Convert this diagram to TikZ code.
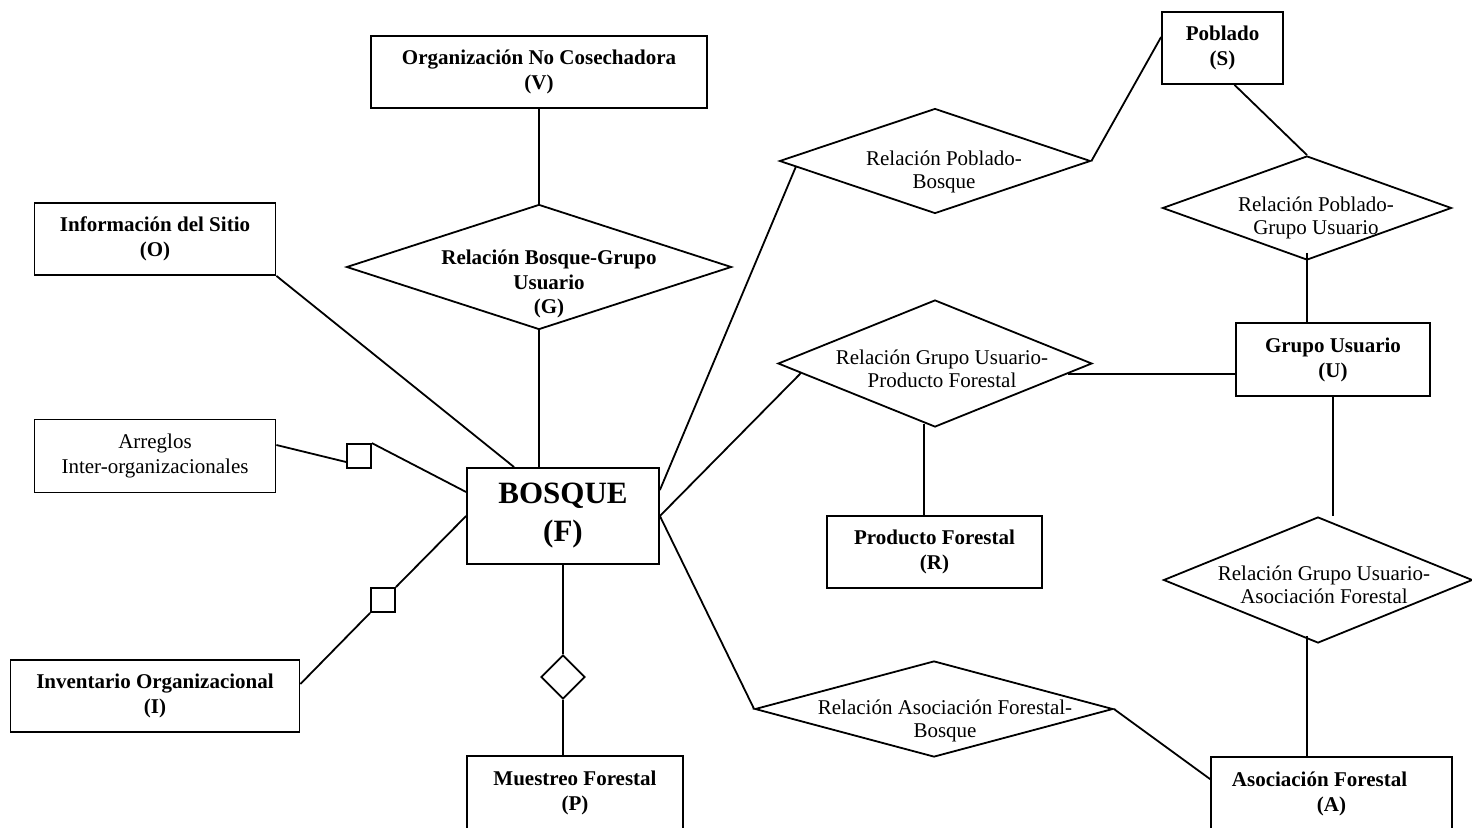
\documentclass[tikz,border=0pt]{standalone}
\usepackage{fontspec}
\setmainfont{Liberation Serif}
\usetikzlibrary{shapes.geometric,calc}
\begin{document}
\begin{tikzpicture}[x=1pt,y=-1pt,line width=1.8pt,
  ent/.style={draw, rectangle, inner sep=0pt, align=center, font=\bfseries\fontsize{21}{25}\selectfont},
  entreg/.style={draw, rectangle, inner sep=0pt, align=center, font=\fontsize{21}{25}\selectfont},
  rel/.style={draw, diamond, inner sep=0pt},
  reltxt/.style={align=center, inner sep=0pt, font=\fontsize{21}{23.5}\selectfont},
  reltxtb/.style={align=center, inner sep=0pt, font=\bfseries\fontsize{21}{24.5}\selectfont},
  sq/.style={draw, rectangle, inner sep=0pt, minimum width=24pt, minimum height=24pt}
]
\useasboundingbox (0,0) rectangle (1472,827);

% entities
\node[ent, minimum width=336pt, minimum height=72pt] (v) at (539,72) {Organización No Cosechadora\\(V)};
\node[ent, minimum width=241pt, minimum height=72pt] (o) at (155,239) {Información del Sitio\\(O)};
\node[entreg, minimum width=241pt, minimum height=73pt] (ar) at (155,456) {Arreglos\\Inter-organizacionales};
\node[ent, minimum width=289pt, minimum height=72pt] (in) at (155,696) {Inventario Organizacional\\(I)};
\node[draw, rectangle, inner sep=0pt, align=center, font=\bfseries\fontsize{31}{38}\selectfont,
      minimum width=192pt, minimum height=96pt] (f) at (563,516) {BOSQUE\\(F)};
\node[ent, minimum width=216pt, minimum height=74pt] (m) at (575,793) {Muestreo Forestal\\(P)};
\node[ent, minimum width=121pt, minimum height=72pt] (s) at (1222.5,48) {Poblado\\(S)};
\node[ent, minimum width=194pt, minimum height=73pt] (gu) at (1333,359.5) {Grupo Usuario\\(U)};
\node[ent, minimum width=215pt, minimum height=72pt] (pf) at (934.5,552) {Producto Forestal\\(R)};
\node[ent, minimum width=241pt, minimum height=74pt] (af) at (1331.5,794) {Asociación Forestal\hspace*{24pt}\\(A)};

% relationships
\node[rel, minimum width=385pt, minimum height=125pt] (g) at (539,267) {};
\node[reltxtb] (gt) at (549,284) {Relación Bosque-Grupo\\Usuario\\(G)};
\node[rel, minimum width=311pt, minimum height=105pt] (pb) at (935,161) {};
\node[reltxt] (pbt) at (944,172) {Relación Poblado-\\Bosque};
\node[rel, minimum width=289pt, minimum height=104pt] (pgu) at (1307,208) {};
\node[reltxt] (pgut) at (1316,218) {Relación Poblado-\\Grupo Usuario};
\node[rel, minimum width=314pt, minimum height=127pt] (gp) at (935,363.5) {};
\node[reltxt] (gpt) at (942,369) {Relación Grupo Usuario-\\Producto Forestal};
\node[rel, minimum width=309pt, minimum height=126pt] (guaf) at (1318,580) {};
\node[reltxt] (guaft) at (1324,585) {Relación Grupo Usuario-\\Asociación Forestal};
\node[rel, minimum width=358pt, minimum height=96pt] (afb) at (934,709) {};
\node[reltxt] (afbt) at (945,721) {Relación Asociación Forestal-\\Bosque};
\node[rel, minimum width=44pt, minimum height=44pt] (sd) at (563,677) {};

% small squares
\node[sq] (sq1) at (359,456) {};
\node[sq] (sq2) at (383,600) {};

% connectors
\draw (v.south) -- (g.north);
\draw (g.south) -- (g.south |- f.north);
\draw (o.south east) -- ($(f.north west)+(48,0)$);
\draw ($(ar.east)+(0,-11)$) -- ($(sq1.west)+(0,6)$);
\draw (sq1.north east) -- ($(f.west)+(0,-24)$);
\draw ($(in.east)+(0,-12)$) -- (sq2.south west);
\draw (sq2.north east) -- (f.west);
\draw (f.south) -- (sd.north);
\draw (sd.south) -- (sd.south |- m.north);
\draw ($(f.east)+(0,-26)$) -- ($(pb.west)!0.11!(pb.south)$);
\draw (f.east) -- ($(gp.west)!0.15!(gp.south)$);
\draw (f.east) -- (afb.west);
\draw ($(s.west)+(0,-11)$) -- (pb.east);
\draw ([xshift=12pt]s.south) -- (pgu.north);
\draw ([yshift=8pt]pgu.south) -- (pgu.south |- gu.north);
\draw ($(gp.east)!0.16!(gp.south)$) coordinate (q) -- (q -| gu.west);
\draw ([xshift=-11pt,yshift=4pt]gp.south) -- ([xshift=-11pt]gp.south |- pf.north);
\draw (gu.south) -- (gu.south |- guaf.north);
\draw ([xshift=-11pt,yshift=8pt]guaf.south) -- ([xshift=-11pt]guaf.south |- af.north);
\draw (afb.east) -- ($(af.north west)+(0,23)$);
\end{tikzpicture}
\end{document}
